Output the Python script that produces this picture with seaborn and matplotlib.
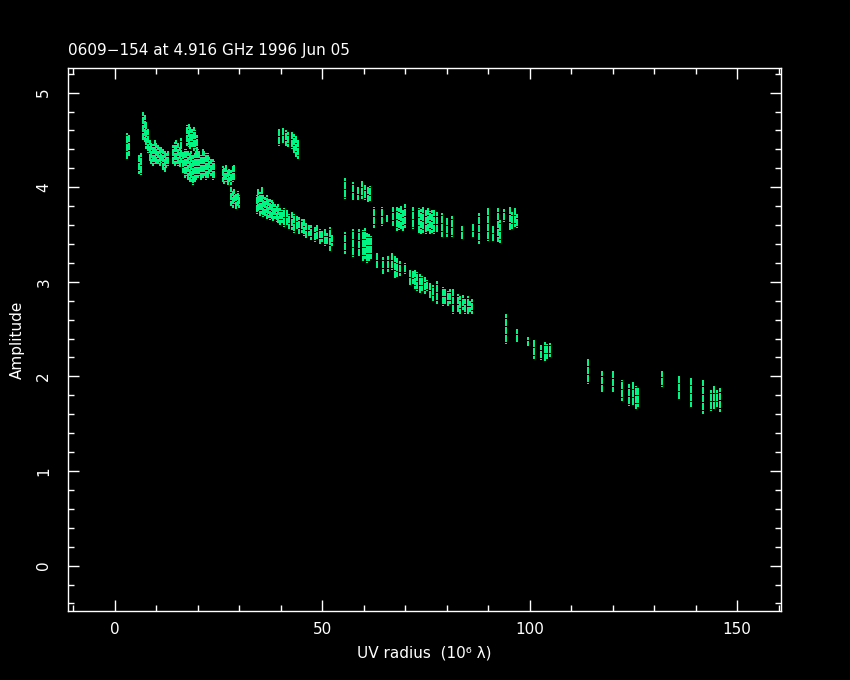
import pandas as pd
import matplotlib.pyplot as plt
import seaborn as sns
from matplotlib.ticker import MultipleLocator

# Visibility amplitude tracks, read off the plot as vertical streaks:
# uv radius (10^6 lambda), lowest and highest amplitude of each streak
uv_radius = [
    3.0, 3.3, 5.9, 6.3,
    6.8, 7.2, 7.6, 8.0,
    8.4, 8.8, 9.2, 9.6, 10.0, 10.4, 10.8, 11.2, 11.6, 12.0, 12.4, 12.8,
    14.0, 14.4, 14.8, 15.2, 15.6, 16.0,
    17.4, 17.8, 18.2, 18.6, 19.0, 19.4, 19.8,
    16.4, 16.8, 17.2, 17.6, 18.0, 18.4, 18.8, 19.2, 19.6, 20.0,
    20.4, 20.8, 21.2, 21.6, 22.0, 22.4, 22.8, 23.2, 23.6, 24.0,
    26.0, 26.4, 26.8, 27.2, 27.6, 28.0, 28.4, 28.8,
    28.0, 28.4, 28.8, 29.2, 29.6, 30.0,
    34.2, 34.6, 35.0, 35.4, 35.8, 36.2, 36.6, 37.0, 37.4, 37.8,
    38.2, 38.6, 39.0, 39.4, 39.8, 40.2,
    40.8, 41.4, 42.0, 42.6, 43.2, 43.8, 44.4, 45.0, 45.6, 46.2, 46.8, 47.4,
    48.2, 48.8, 49.4, 50.0, 50.6, 51.2, 51.8, 52.4,
    39.6, 40.6, 41.2, 41.7, 42.6, 43.2, 43.7, 44.2,
    55.6, 57.3, 58.5, 59.7, 60.4, 61.0, 61.6,
    55.5, 57.5, 58.8, 59.8, 60.3, 60.8, 61.3, 61.8,
    62.5, 64.3, 65.7, 67.0, 67.9, 68.4, 68.9, 69.4, 69.9, 71.8,
    73.4, 73.9, 74.4, 74.9, 75.4, 75.9, 76.4, 76.9, 77.6, 78.8,
    80.0, 81.2, 83.8, 86.3, 87.8, 90.0, 91.1, 92.3, 92.8, 93.9,
    95.2, 95.8, 96.4, 97.0,
    63.1, 64.7, 65.9, 66.7, 67.5, 68.1, 68.7, 69.9, 71.1, 71.9,
    72.3, 72.9, 73.5, 74.1, 74.7, 75.2, 76.0, 76.8, 77.7, 79.1,
    79.7, 80.3, 80.8, 81.6, 82.7, 83.3, 83.9, 84.4, 85.1, 85.6, 86.1,
    94.3, 97.0, 99.6, 101.0, 102.7, 103.7, 104.3, 104.9,
    114.0, 117.4, 120.0, 122.3, 124.0, 125.0, 125.6, 126.2,
    132.0, 136.0, 139.0, 141.8, 143.7, 144.4, 145.2, 145.8,
]
amp_low = [
    4.30, 4.33, 4.14, 4.13,
    4.50, 4.48, 4.40, 4.36,
    4.28, 4.24, 4.22, 4.24, 4.25, 4.24, 4.22, 4.26, 4.18, 4.16, 4.20, 4.22,
    4.25, 4.22, 4.24, 4.22, 4.21, 4.26,
    4.44, 4.42, 4.40, 4.42, 4.38, 4.40, 4.35,
    4.15, 4.10, 4.12, 4.08, 4.05, 4.05, 4.02, 4.06, 4.08, 4.10,
    4.12, 4.08, 4.10, 4.12, 4.08, 4.10, 4.14, 4.12, 4.08, 4.10,
    4.05, 4.03, 4.05, 4.02, 4.06, 4.02, 4.06, 4.08,
    3.80, 3.78, 3.82, 3.77, 3.80, 3.78,
    3.72, 3.75, 3.70, 3.72, 3.68, 3.70, 3.66, 3.67, 3.65, 3.66,
    3.64, 3.66, 3.63, 3.62, 3.60, 3.62,
    3.58, 3.60, 3.56, 3.55, 3.52, 3.56, 3.50, 3.52, 3.48, 3.46, 3.48, 3.44,
    3.42, 3.45, 3.40, 3.42, 3.38, 3.40, 3.33, 3.38,
    4.44, 4.47, 4.44, 4.42, 4.40, 4.36, 4.32, 4.30,
    3.88, 3.86, 3.86, 3.88, 3.86, 3.84, 3.85,
    3.29, 3.26, 3.27, 3.22, 3.24, 3.20, 3.22, 3.24,
    3.57, 3.59, 3.63, 3.59, 3.54, 3.55, 3.56, 3.54, 3.57, 3.56,
    3.52, 3.50, 3.52, 3.50, 3.54, 3.50, 3.52, 3.51, 3.53, 3.47,
    3.47, 3.47, 3.45, 3.47, 3.40, 3.43, 3.43, 3.42, 3.41, 3.63,
    3.55, 3.56, 3.58, 3.57,
    3.15, 3.08, 3.10, 3.12, 3.04, 3.05, 3.06, 3.08, 2.97, 2.98,
    2.92, 2.90, 2.88, 2.90, 2.87, 2.90, 2.83, 2.80, 2.76, 2.74,
    2.76, 2.74, 2.76, 2.66, 2.68, 2.66, 2.70, 2.66, 2.66, 2.68, 2.66,
    2.34, 2.36, 2.32, 2.18, 2.17, 2.16, 2.18, 2.20,
    1.92, 1.83, 1.84, 1.74, 1.69, 1.70, 1.66, 1.68,
    1.89, 1.76, 1.68, 1.60, 1.63, 1.66, 1.68, 1.62,
]
amp_high = [
    4.57, 4.55, 4.34, 4.36,
    4.79, 4.76, 4.70, 4.62,
    4.50, 4.48, 4.46, 4.50, 4.47, 4.45, 4.44, 4.42, 4.40, 4.38, 4.36, 4.38,
    4.45, 4.48, 4.50, 4.47, 4.42, 4.52,
    4.66, 4.67, 4.64, 4.62, 4.64, 4.60, 4.55,
    4.38, 4.40, 4.40, 4.38, 4.36, 4.38, 4.34, 4.36, 4.38, 4.40,
    4.38, 4.34, 4.40, 4.38, 4.36, 4.36, 4.32, 4.30, 4.30, 4.28,
    4.22, 4.20, 4.24, 4.18, 4.20, 4.18, 4.22, 4.25,
    4.00, 3.96, 3.98, 3.94, 3.96, 3.92,
    3.92, 3.98, 3.95, 4.00, 3.92, 3.90, 3.92, 3.88, 3.88, 3.86,
    3.84, 3.82, 3.80, 3.82, 3.78, 3.76,
    3.78, 3.76, 3.72, 3.74, 3.72, 3.70, 3.68, 3.66, 3.66, 3.62, 3.60, 3.60,
    3.58, 3.60, 3.56, 3.54, 3.56, 3.52, 3.58, 3.50,
    4.63, 4.63, 4.60, 4.58, 4.58, 4.56, 4.54, 4.50,
    4.10, 4.05, 4.01, 4.07, 4.02, 4.00, 4.01,
    3.53, 3.56, 3.56, 3.55, 3.57, 3.52, 3.50, 3.48,
    3.79, 3.79, 3.71, 3.79, 3.79, 3.78, 3.80, 3.76, 3.82, 3.79,
    3.78, 3.77, 3.79, 3.76, 3.78, 3.75, 3.76, 3.76, 3.74, 3.73,
    3.68, 3.70, 3.59, 3.61, 3.73, 3.78, 3.59, 3.78, 3.65, 3.77,
    3.80, 3.74, 3.78, 3.72,
    3.31, 3.26, 3.27, 3.31, 3.27, 3.25, 3.22, 3.20, 3.13, 3.12,
    3.13, 3.10, 3.08, 3.06, 3.05, 3.02, 2.99, 2.97, 3.01, 2.94,
    2.92, 2.90, 2.92, 2.92, 2.87, 2.85, 2.86, 2.82, 2.85, 2.80, 2.82,
    2.66, 2.50, 2.42, 2.39, 2.33, 2.36, 2.34, 2.35,
    2.19, 2.06, 2.06, 1.96, 1.92, 1.95, 1.90, 1.88,
    2.06, 2.01, 1.99, 1.96, 1.86, 1.90, 1.86, 1.88,
]

TITLE = "0609\u2212154 at 4.916 GHz 1996 Jun 05"
GREEN = "#00f582"
FG = "white"

# long format: each streak is a two-point line, one unit per streak
n = len(uv_radius)
df = pd.DataFrame({
    "streak": list(range(n)) * 2,
    "uv": uv_radius * 2,
    "amp": amp_low + amp_high,
})

sns.set_theme(style="dark", rc={
    "figure.facecolor": "black",
    "axes.facecolor": "black",
    "axes.edgecolor": FG,
    "text.color": FG,
    "xtick.color": FG,
    "ytick.color": FG,
    "axes.labelcolor": FG,
})
plt.rcParams["font.family"] = ["DejaVu Sans"]

fig = plt.figure(figsize=(8.5, 6.8), dpi=100)
ax = fig.add_axes([68 / 850, 69 / 680, 713 / 850, 543 / 680])

sns.lineplot(data=df, x="uv", y="amp", units="streak", estimator=None,
             sort=False, color=GREEN, linewidth=1.6, ax=ax, legend=False,
             antialiased=False, dashes=False)
# speckled look of the raw visibilities; stagger the gaps between streaks
for i, ln in enumerate(ax.lines):
    ln.set_linestyle(((i % 4) * 0.9, (3, 0.8)))

ax.set_xlim(-11.3, 160.6)
ax.set_ylim(-0.48, 5.26)

ax.xaxis.set_major_locator(MultipleLocator(50))
ax.xaxis.set_minor_locator(MultipleLocator(10))
ax.yaxis.set_major_locator(MultipleLocator(1))
ax.yaxis.set_minor_locator(MultipleLocator(0.2))
ax.tick_params(which="both", direction="in", top=True, right=True,
               bottom=True, left=True, colors=FG, width=1)
ax.tick_params(which="major", length=8, labelsize=11)
ax.tick_params(which="minor", length=4)
ax.tick_params(axis="x", pad=8)
ax.tick_params(axis="y", pad=12)
for lab in ax.get_yticklabels():
    lab.set_rotation(90)
    lab.set_va("center")
for sp in ax.spines.values():
    sp.set_color(FG)
    sp.set_linewidth(1)
ax.grid(False)

ax.set_xlabel("UV radius  (10\u2076 \u03bb)", fontsize=11, labelpad=6)
ax.set_ylabel("Amplitude", fontsize=11, labelpad=8)
fig.text(68 / 850, 1 - 50 / 680, TITLE, fontsize=11, color=FG,
         ha="left", va="center")

fig.savefig("out.png", dpi=100, facecolor="black")
plt.close(fig)
